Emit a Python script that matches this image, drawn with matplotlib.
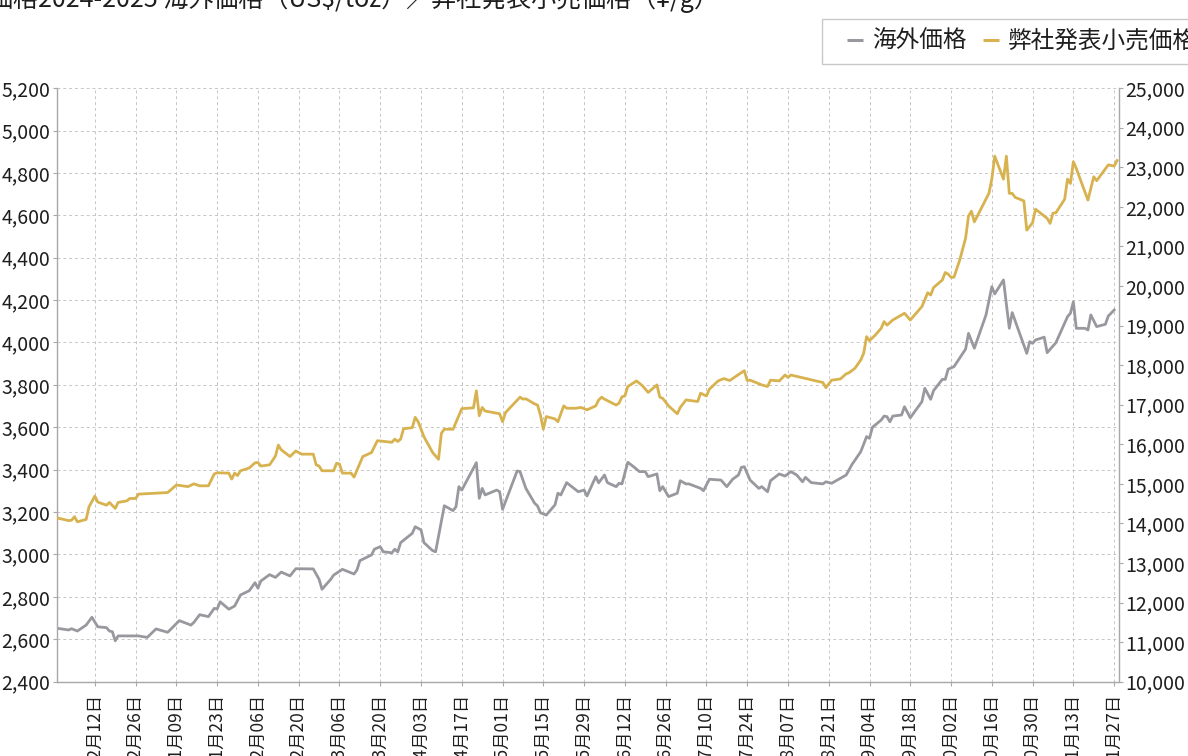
import matplotlib
matplotlib.use('Agg')
import matplotlib.pyplot as plt
import matplotlib.dates as mdates
from matplotlib.lines import Line2D
from matplotlib.ticker import FuncFormatter
import pandas as pd

plt.rcParams['font.family'] = ['Noto Sans CJK JP', 'DejaVu Sans']

title = '金価格2024-2025 海外価格（US$/toz）／弊社発表小売価格（¥/g）'
label_intl = '海外価格'
label_retail = '弊社発表小売価格'

# overseas price, US$/toz (left axis)
intl_dates = [
    '2024-11-29', '2024-12-03', '2024-12-04', '2024-12-06', '2024-12-09', '2024-12-11', '2024-12-13', '2024-12-16', '2024-12-17', '2024-12-18',
    '2024-12-19', '2024-12-20', '2024-12-27', '2024-12-30', '2025-01-02', '2025-01-06', '2025-01-10', '2025-01-14', '2025-01-15', '2025-01-17',
    '2025-01-20', '2025-01-22', '2025-01-23', '2025-01-24', '2025-01-27', '2025-01-29', '2025-01-31', '2025-02-03', '2025-02-05', '2025-02-06',
    '2025-02-07', '2025-02-10', '2025-02-12', '2025-02-14', '2025-02-17', '2025-02-19', '2025-02-25', '2025-02-27', '2025-02-28', '2025-03-03',
    '2025-03-04', '2025-03-07', '2025-03-11', '2025-03-12', '2025-03-13', '2025-03-17', '2025-03-18', '2025-03-20', '2025-03-21', '2025-03-24',
    '2025-03-25', '2025-03-26', '2025-03-27', '2025-03-31', '2025-04-01', '2025-04-03', '2025-04-04', '2025-04-07', '2025-04-08', '2025-04-11',
    '2025-04-14', '2025-04-15', '2025-04-16', '2025-04-17', '2025-04-22', '2025-04-23', '2025-04-24', '2025-04-25', '2025-04-29', '2025-04-30',
    '2025-05-01', '2025-05-06', '2025-05-07', '2025-05-09', '2025-05-12', '2025-05-13', '2025-05-14', '2025-05-16', '2025-05-19', '2025-05-20',
    '2025-05-21', '2025-05-23', '2025-05-27', '2025-05-29', '2025-05-30', '2025-06-02', '2025-06-03', '2025-06-05', '2025-06-06', '2025-06-09',
    '2025-06-10', '2025-06-11', '2025-06-13', '2025-06-15', '2025-06-17', '2025-06-19', '2025-06-20', '2025-06-23', '2025-06-24', '2025-06-25',
    '2025-06-27', '2025-06-30', '2025-07-01', '2025-07-03', '2025-07-04', '2025-07-08', '2025-07-09', '2025-07-11', '2025-07-15', '2025-07-17',
    '2025-07-19', '2025-07-21', '2025-07-22', '2025-07-23', '2025-07-25', '2025-07-28', '2025-07-29', '2025-07-31', '2025-08-01', '2025-08-04',
    '2025-08-06', '2025-08-08', '2025-08-10', '2025-08-12', '2025-08-13', '2025-08-15', '2025-08-19', '2025-08-20', '2025-08-22', '2025-08-27',
    '2025-08-29', '2025-09-01', '2025-09-03', '2025-09-04', '2025-09-05', '2025-09-08', '2025-09-09', '2025-09-10', '2025-09-11', '2025-09-12',
    '2025-09-15', '2025-09-16', '2025-09-18', '2025-09-22', '2025-09-23', '2025-09-25', '2025-09-26', '2025-09-29', '2025-09-30', '2025-10-01',
    '2025-10-03', '2025-10-07', '2025-10-08', '2025-10-10', '2025-10-14', '2025-10-16', '2025-10-17', '2025-10-20', '2025-10-22', '2025-10-23',
    '2025-10-28', '2025-10-29', '2025-10-30', '2025-10-31', '2025-11-03', '2025-11-04', '2025-11-06', '2025-11-07', '2025-11-11', '2025-11-12',
    '2025-11-13', '2025-11-14', '2025-11-17', '2025-11-18', '2025-11-19', '2025-11-21', '2025-11-24', '2025-11-25', '2025-11-27',
]
intl_usd = [
    2652, 2644, 2650, 2639, 2667, 2704, 2659, 2655, 2639, 2636,
    2593, 2616, 2616, 2609, 2649, 2633, 2688, 2667, 2680, 2716,
    2707, 2746, 2743, 2777, 2742, 2757, 2809, 2829, 2867, 2841,
    2875, 2905, 2892, 2917, 2899, 2933, 2932, 2883, 2836, 2883,
    2903, 2930, 2908, 2927, 2971, 2998, 3025, 3037, 3013, 3008,
    3025, 3012, 3056, 3100, 3131, 3116, 3056, 3018, 3013, 3230,
    3207, 3225, 3320, 3304, 3433, 3265, 3312, 3281, 3304, 3296,
    3213, 3394, 3391, 3312, 3242, 3229, 3197, 3186, 3234, 3289,
    3281, 3339, 3296, 3304, 3276, 3367, 3338, 3375, 3339, 3320,
    3336, 3333, 3435, 3414, 3391, 3391, 3367, 3380, 3301, 3320,
    3273, 3289, 3348, 3333, 3333, 3312, 3301, 3355, 3351, 3320,
    3355, 3375, 3411, 3414, 3351, 3312, 3320, 3296, 3348, 3380,
    3370, 3391, 3375, 3343, 3364, 3339, 3333, 3343, 3336, 3375,
    3425, 3485, 3556, 3548, 3600, 3634, 3653, 3650, 3626, 3653,
    3658, 3697, 3645, 3721, 3784, 3732, 3773, 3826, 3826, 3874,
    3886, 3969, 4043, 3973, 4130, 4263, 4229, 4295, 4067, 4141,
    3949, 4004, 3996, 4012, 4025, 3952, 3983, 3999, 4122, 4138,
    4192, 4067, 4067, 4059, 4130, 4075, 4086, 4125, 4153,
]

# our published retail price, yen/g (right axis)
retail_dates = [
    '2024-11-29', '2024-12-03', '2024-12-04', '2024-12-05', '2024-12-06', '2024-12-09', '2024-12-10', '2024-12-12', '2024-12-13', '2024-12-16',
    '2024-12-17', '2024-12-19', '2024-12-20', '2024-12-23', '2024-12-24', '2024-12-26', '2024-12-27', '2025-01-06', '2025-01-09', '2025-01-13',
    '2025-01-15', '2025-01-17', '2025-01-20', '2025-01-22', '2025-01-23', '2025-01-27', '2025-01-28', '2025-01-29', '2025-01-30', '2025-01-31',
    '2025-02-03', '2025-02-05', '2025-02-06', '2025-02-07', '2025-02-10', '2025-02-12', '2025-02-13', '2025-02-14', '2025-02-17', '2025-02-19',
    '2025-02-21', '2025-02-25', '2025-02-26', '2025-02-27', '2025-02-28', '2025-03-04', '2025-03-05', '2025-03-06', '2025-03-07', '2025-03-10',
    '2025-03-11', '2025-03-14', '2025-03-17', '2025-03-19', '2025-03-24', '2025-03-25', '2025-03-26', '2025-03-27', '2025-03-28', '2025-03-31',
    '2025-04-01', '2025-04-02', '2025-04-04', '2025-04-07', '2025-04-09', '2025-04-10', '2025-04-11', '2025-04-14', '2025-04-17', '2025-04-21',
    '2025-04-22', '2025-04-23', '2025-04-24', '2025-04-25', '2025-04-30', '2025-05-01', '2025-05-02', '2025-05-07', '2025-05-08', '2025-05-09',
    '2025-05-12', '2025-05-13', '2025-05-14', '2025-05-15', '2025-05-16', '2025-05-19', '2025-05-20', '2025-05-22', '2025-05-23', '2025-05-26',
    '2025-05-28', '2025-05-30', '2025-06-02', '2025-06-03', '2025-06-04', '2025-06-05', '2025-06-09', '2025-06-10', '2025-06-11', '2025-06-12',
    '2025-06-13', '2025-06-16', '2025-06-18', '2025-06-20', '2025-06-23', '2025-06-24', '2025-06-25', '2025-06-27', '2025-06-30', '2025-07-01',
    '2025-07-03', '2025-07-07', '2025-07-08', '2025-07-10', '2025-07-11', '2025-07-14', '2025-07-16', '2025-07-18', '2025-07-23', '2025-07-24',
    '2025-07-25', '2025-07-29', '2025-07-31', '2025-08-01', '2025-08-04', '2025-08-06', '2025-08-07', '2025-08-08', '2025-08-19', '2025-08-20',
    '2025-08-22', '2025-08-25', '2025-08-27', '2025-08-28', '2025-08-30', '2025-09-01', '2025-09-02', '2025-09-03', '2025-09-04', '2025-09-06',
    '2025-09-08', '2025-09-09', '2025-09-10', '2025-09-12', '2025-09-16', '2025-09-18', '2025-09-22', '2025-09-24', '2025-09-25', '2025-09-26',
    '2025-09-29', '2025-09-30', '2025-10-01', '2025-10-02', '2025-10-03', '2025-10-05', '2025-10-07', '2025-10-08', '2025-10-09', '2025-10-10',
    '2025-10-15', '2025-10-16', '2025-10-17', '2025-10-20', '2025-10-21', '2025-10-22', '2025-10-23', '2025-10-24', '2025-10-27', '2025-10-28',
    '2025-10-30', '2025-10-31', '2025-11-04', '2025-11-05', '2025-11-06', '2025-11-07', '2025-11-10', '2025-11-11', '2025-11-12', '2025-11-13',
    '2025-11-14', '2025-11-18', '2025-11-20', '2025-11-21', '2025-11-25', '2025-11-27', '2025-11-28',
]
retail_jpy = [
    14140, 14070, 14080, 14170, 14040, 14100, 14420, 14690, 14540, 14460,
    14530, 14380, 14530, 14570, 14630, 14630, 14740, 14780, 14970, 14930,
    15000, 14950, 14950, 15250, 15280, 15270, 15120, 15270, 15210, 15330,
    15400, 15530, 15540, 15450, 15480, 15700, 15980, 15860, 15690, 15830,
    15750, 15750, 15480, 15450, 15330, 15330, 15520, 15500, 15270, 15270,
    15170, 15690, 15790, 16090, 16050, 16130, 16070, 16130, 16390, 16420,
    16680, 16570, 16190, 15790, 15620, 16280, 16380, 16380, 16900, 16920,
    17350, 16720, 16930, 16840, 16770, 16570, 16800, 17190, 17140, 17150,
    17020, 16990, 16740, 16380, 16700, 16640, 16570, 16970, 16910, 16910,
    16930, 16870, 16970, 17120, 17190, 17140, 16990, 17040, 17200, 17220,
    17460, 17600, 17480, 17310, 17500, 17190, 17160, 16970, 16770, 16930,
    17120, 17080, 17290, 17220, 17390, 17600, 17660, 17610, 17860, 17610,
    17620, 17500, 17460, 17620, 17600, 17750, 17690, 17750, 17560, 17430,
    17620, 17650, 17780, 17810, 17920, 18130, 18300, 18720, 18620, 18760,
    18930, 19100, 19010, 19140, 19310, 19140, 19480, 19830, 19770, 19960,
    20150, 20340, 20300, 20220, 20220, 20660, 21210, 21770, 21890, 21620,
    22340, 22700, 23280, 22700, 23280, 22340, 22340, 22240, 22150, 21410,
    21600, 21940, 21710, 21580, 21840, 21850, 22190, 22700, 22590, 23140,
    22970, 22170, 22760, 22660, 23060, 23030, 23170,
]

left_ticks = list(range(2400, 5201, 200))
right_ticks = list(range(10000, 25001, 1000))
x_ticks = pd.date_range('2024-12-12', '2025-11-27', freq='14D')

GRAY = '#98989f'
GOLD = '#d7b24f'
AXIS = '#a8a8a8'
TEXT = '#1e1e1e'

W, H = 1188, 756
fig = plt.figure(figsize=(W / 100, H / 100), dpi=100)
ax = fig.add_axes([57 / W, 1 - 681.7 / H, 1061.5 / W, 593.6 / H])
ax2 = ax.twinx()

ax.plot(pd.to_datetime(intl_dates), intl_usd, color=GRAY, lw=2.0, solid_joinstyle='round')
ax2.plot(pd.to_datetime(retail_dates), retail_jpy, color=GOLD, lw=2.0, solid_joinstyle='round')

ax.set_xlim(pd.Timestamp('2024-11-29'), pd.Timestamp('2025-11-28 12:00'))
ax.set_ylim(2400, 5200)
ax2.set_ylim(10000, 25000)
ax.set_yticks(left_ticks)
ax2.set_yticks(right_ticks)
ax.set_xticks(x_ticks)
ax.xaxis.set_major_formatter(mdates.DateFormatter('%Y年%m月%d日'))
comma = FuncFormatter(lambda v, p: f'{int(v):,}')
ax.yaxis.set_major_formatter(comma)
ax2.yaxis.set_major_formatter(comma)

ax.set_axisbelow(True)
ax.grid(True, color='#c6c6c6', linestyle=(0, (3, 3)), linewidth=0.7)

for a in (ax, ax2):
    for s in a.spines.values():
        s.set_color(AXIS)
        s.set_linewidth(1.0)
    a.spines['top'].set_visible(False)
ax.spines['right'].set_visible(False)
ax2.spines['left'].set_visible(False)
ax2.spines['bottom'].set_visible(False)

ax.tick_params(axis='y', labelsize=14, length=3, color=AXIS, pad=2, labelcolor=TEXT)
ax2.tick_params(axis='y', labelsize=14, length=3, color=AXIS, pad=2, labelcolor=TEXT)
ax.tick_params(axis='x', labelsize=12.5, length=3, color=AXIS, pad=6, labelcolor=TEXT, labelrotation=90)

fig.text(-37 / W, 1 - 7 / H, title, fontsize=18, ha='left', va='baseline', color=TEXT)

handles = [
    Line2D([], [], color=GRAY, marker='_', ls='none', markersize=11.5, mew=2.2),
    Line2D([], [], color=GOLD, marker='_', ls='none', markersize=11.5, mew=2.2),
]
leg = fig.legend(handles, [label_intl, label_retail], loc='upper left',
                 bbox_to_anchor=(822 / W, 1 - 19.3 / H), ncol=2, fontsize=17,
                 frameon=True, fancybox=False, edgecolor='#c8c8c8', framealpha=1,
                 borderpad=0.45, handlelength=1.9, handletextpad=-0.25,
                 columnspacing=0.1, borderaxespad=0)
for t in leg.get_texts():
    t.set_color(TEXT)

fig.savefig('out.png', dpi=100)
